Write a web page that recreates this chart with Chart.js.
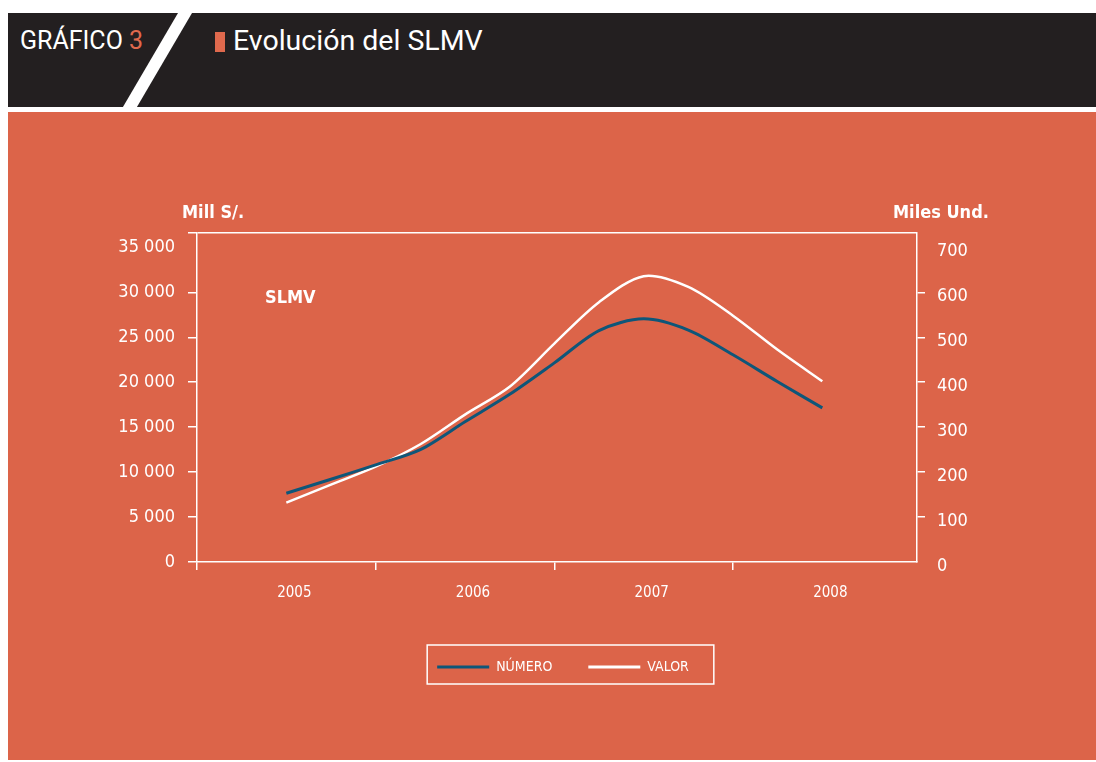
<!DOCTYPE html>
<html lang="es">
<head>
<meta charset="utf-8">
<title>Evolución del SLMV</title>
<script src="https://cdn.jsdelivr.net/npm/chart.js@4.4.1/dist/chart.umd.min.js"></script>
<style>
  html, body { margin: 0; padding: 0; background: #fff; }
  body { width: 1096px; height: 762px; position: relative; overflow: hidden; font-family: Roboto, 'Liberation Sans', sans-serif; }
  .cabecera { position: absolute; left: 8px; top: 13px; width: 1088px; height: 94px; background: #231f20; }
  .cabecera svg { position: absolute; left: 0; top: 0; }
  .grafico { position: absolute; left: 12px; top: 13px; color: #fff; font-size: 25px; white-space: nowrap; }
  .grafico span { color: #e0694d; }
  .marca { position: absolute; left: 207px; top: 19px; width: 10px; height: 20px; background: #e0694d; }
  .titulo { position: absolute; left: 225px; top: 11px; color: #fff; font-size: 28.5px; white-space: nowrap; }
  .panel { position: absolute; left: 8px; top: 112px; width: 1088px; height: 648px; background: #dc6449; }
  .panel canvas { position: absolute; left: 0; top: 0; }
  .rotulo { position: absolute; color: #fff; font: bold 18px 'Liberation Sans Narrow', 'DejaVu Sans Condensed', sans-serif; white-space: nowrap; }
</style>
</head>
<body>
<div class="cabecera">
  <svg width="200" height="99"><polygon points="170,0 184,0 126,99 112,99" fill="#fff"/></svg>
  <div class="grafico">GRÁFICO <span>3</span></div>
  <div class="marca"></div>
  <div class="titulo">Evolución del SLMV</div>
</div>
<div class="panel">
  <canvas id="slmv" width="1088" height="648"></canvas>
  <div class="rotulo" style="left:174px; top:89px;">Mill S/.</div>
  <div class="rotulo" style="left:885px; top:89px;">Miles Und.</div>
  <div class="rotulo" style="left:257px; top:174px;">SLMV</div>
</div>
<script>
// trimestres (año decimal), de mediados de 2005 a mediados de 2008
const periodos = [2005.5, 2005.75, 2006, 2006.25, 2006.5, 2006.75, 2007, 2007.25, 2007.5, 2007.75, 2008, 2008.25, 2008.5];
// NÚMERO, miles de unidades (eje derecho)
const numero = [153, 184, 216, 250, 312, 373, 443, 515, 541, 516, 461, 401, 343];
// VALOR, millones de S/. (eje izquierdo)
const valor = [6600, 8600, 10600, 13100, 16400, 19500, 24300, 28900, 31800, 30600, 27400, 23600, 20100];

const anios = [2005, 2006, 2007, 2008];
const ticksValor = [0, 5000, 10000, 15000, 20000, 25000, 30000, 35000];
const ticksNumero = [0, 100, 200, 300, 400, 500, 600, 700];

const BLANCO = '#ffffff';
const AZUL = '#0e5679';
const NADA = 'rgba(0,0,0,0)';
const FUENTE = "'Liberation Sans Narrow', 'DejaVu Sans Condensed', sans-serif";
const TOPE_VALOR = 36600;
const TOPE_NUMERO = 732;

const miles = v => String(v).replace(/\B(?=(\d{3})+(?!\d))/g, ' ');

// marco blanco alrededor de la leyenda
const marcoLeyenda = {
    id: 'marcoLeyenda',
    afterDraw(chart) {
        const cajas = chart.legend && chart.legend.legendHitBoxes;
        if (!cajas || !cajas.length) return;
        const ctx = chart.ctx;
        const primera = cajas[0];
        const ultima = cajas[cajas.length - 1];
        const centro = primera.top + primera.height / 2;
        const izq = primera.left - 10;
        const der = ultima.left + ultima.width + 25;
        ctx.save();
        ctx.strokeStyle = BLANCO;
        ctx.lineWidth = 1.5;
        ctx.strokeRect(izq, centro - 22, der - izq, 39);
        ctx.restore();
    }
};

const ctx = document.getElementById('slmv').getContext('2d');

new Chart(ctx, {
    type: 'line',
    data: {
        datasets: [{
            label: 'NÚMERO',
            data: periodos.map((p, i) => ({ x: p, y: numero[i] })),
            yAxisID: 'yNumero',
            borderColor: AZUL,
            backgroundColor: AZUL,
            borderWidth: 3,
            pointRadius: 0,
            tension: 0.3
        }, {
            label: 'VALOR',
            data: periodos.map((p, i) => ({ x: p, y: valor[i] })),
            yAxisID: 'yValor',
            borderColor: BLANCO,
            backgroundColor: BLANCO,
            borderWidth: 2.5,
            pointRadius: 0,
            tension: 0.3
        }]
    },
    options: {
        responsive: false,
        animation: false,
        layout: { padding: { top: 121, left: 22, right: 0, bottom: 76 } },
        scales: {
            x: {
                type: 'linear',
                min: 2005,
                max: 2009.03,
                afterBuildTicks: scale => {
                    const t = [];
                    anios.forEach(a => { t.push({ value: a }); t.push({ value: a + 0.545 }); });
                    scale.ticks = t;
                },
                afterFit: scale => { scale.height = 62; },
                ticks: {
                    autoSkip: false,
                    maxRotation: 0,
                    padding: 14,
                    color: BLANCO,
                    font: { family: FUENTE, size: 15 },
                    callback: v => Number.isInteger(v) ? '' : String(Math.floor(v))
                },
                grid: {
                    drawOnChartArea: false,
                    tickLength: 8,
                    lineWidth: 1.5,
                    color: c => (c.tick && Number.isInteger(c.tick.value)) ? BLANCO : NADA,
                    tickColor: c => (c.tick && Number.isInteger(c.tick.value)) ? BLANCO : NADA
                },
                border: { color: BLANCO, width: 1.5 }
            },
            yValor: {
                position: 'left',
                min: 0,
                max: TOPE_VALOR,
                afterBuildTicks: scale => {
                    scale.ticks = ticksValor.map(v => ({ value: v })).concat([{ value: TOPE_VALOR }]);
                },
                afterFit: scale => { scale.width = 167; },
                ticks: {
                    padding: 13,
                    color: BLANCO,
                    font: { family: FUENTE, size: 18 },
                    callback: v => v === TOPE_VALOR ? '' : miles(v)
                },
                grid: {
                    tickLength: 9,
                    lineWidth: 1.5,
                    color: c => (c.tick && c.tick.value === TOPE_VALOR) ? BLANCO : NADA,
                    tickColor: c => (c.tick && c.tick.value === 35000) ? NADA : BLANCO
                },
                border: { color: BLANCO, width: 1.5 }
            },
            yNumero: {
                position: 'right',
                min: 0,
                max: TOPE_NUMERO,
                afterBuildTicks: scale => {
                    scale.ticks = ticksNumero.map(v => ({ value: v }));
                },
                afterFit: scale => { scale.width = 179; },
                ticks: {
                    padding: 12,
                    labelOffset: 4,
                    color: BLANCO,
                    font: { family: FUENTE, size: 18 }
                },
                grid: {
                    drawOnChartArea: false,
                    tickLength: 8,
                    lineWidth: 1.5,
                    tickColor: c => (c.tick && (c.tick.value === 0 || c.tick.value === 700)) ? NADA : BLANCO
                },
                border: { color: BLANCO, width: 1.5 }
            }
        },
        plugins: {
            legend: {
                position: 'bottom',
                labels: {
                    boxWidth: 52,
                    boxHeight: 3,
                    padding: 36,
                    color: BLANCO,
                    font: { family: FUENTE, size: 14 },
                    generateLabels: chart => Chart.defaults.plugins.legend.labels.generateLabels(chart)
                        .map(l => Object.assign(l, { lineWidth: 0 }))
                }
            },
            tooltip: { enabled: false }
        }
    },
    plugins: [marcoLeyenda]
});
</script>
</body>
</html>
